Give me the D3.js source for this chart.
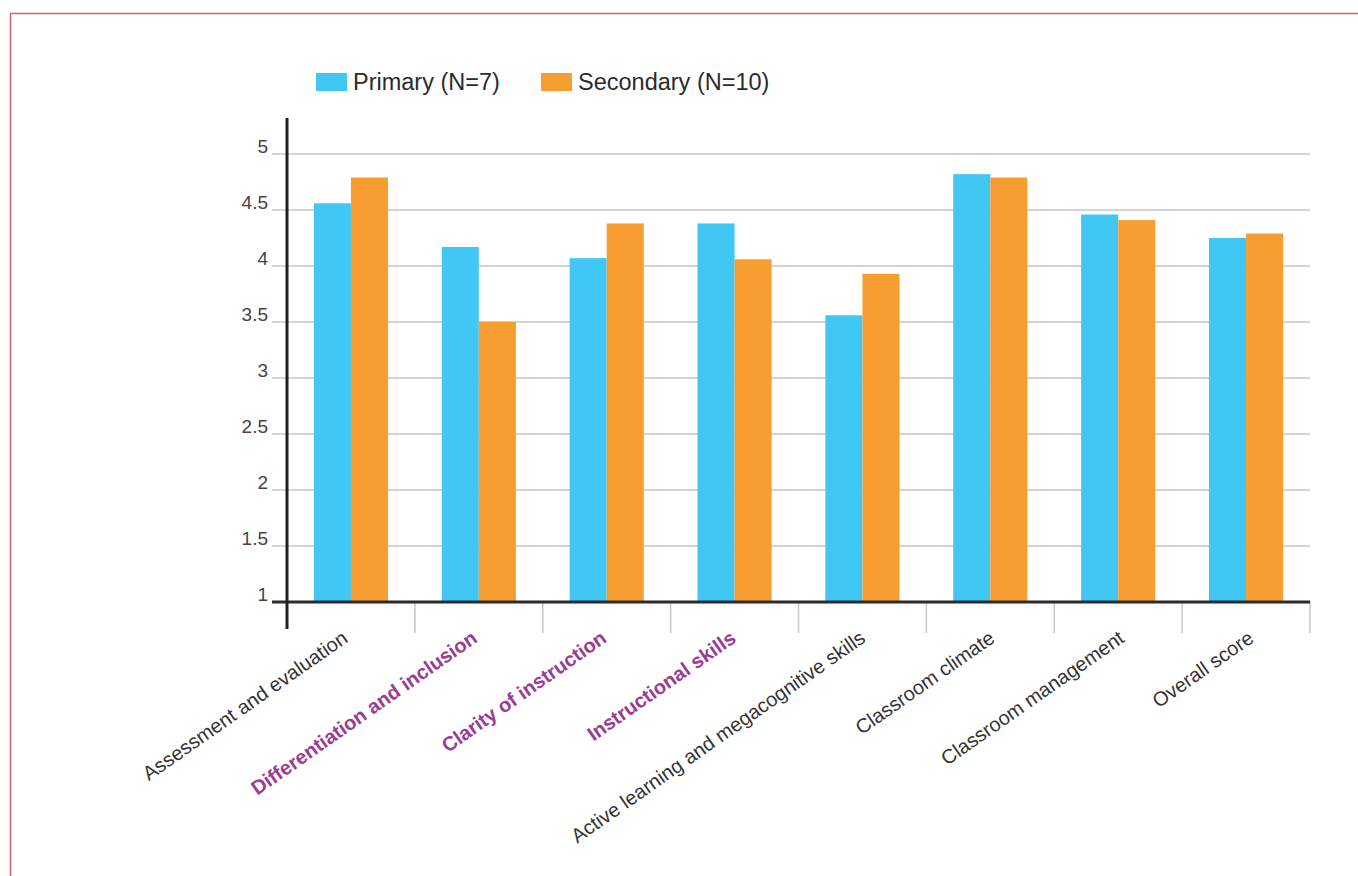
<!DOCTYPE html>
<html>
<head>
<meta charset="utf-8">
<script src="https://cdn.jsdelivr.net/npm/d3@7"></script>
<style>
  html, body { margin: 0; padding: 0; background: #fff; }
  svg { display: block; font-family: "Liberation Sans", Arial, Helvetica, sans-serif; }
</style>
</head>
<body>
<svg id="chart" width="1358" height="876"></svg>
<script>
// Mean observation scores by domain, primary vs secondary teachers
const categories = [
  "Assessment and evaluation",
  "Differentiation and inclusion",
  "Clarity of instruction",
  "Instructional skills",
  "Active learning and megacognitive skills",
  "Classroom climate",
  "Classroom management",
  "Overall score"
];
const highlighted = [
  "Differentiation and inclusion",
  "Clarity of instruction",
  "Instructional skills"
];
const seriesNames = ["Primary (N=7)", "Secondary (N=10)"];
const primaryValues   = [4.56, 4.17, 4.07, 4.38, 3.56, 4.82, 4.46, 4.25];
const secondaryValues = [4.79, 3.50, 4.38, 4.06, 3.93, 4.79, 4.41, 4.29];
const yTicks = [1, 1.5, 2, 2.5, 3, 3.5, 4, 4.5, 5];
const yTickLabels = ["1", "1.5", "2", "2.5", "3", "3.5", "4", "4.5", "5"];

const colors = ["#41c7f4", "#f79e33"];
const seriesValues = [primaryValues, secondaryValues];

const svg = d3.select("#chart");

// frame
svg.append("path")
  .attr("d", "M10.5,876 L10.5,13.5 L1358,13.5")
  .attr("fill", "none")
  .attr("stroke", "#d0646c")
  .attr("stroke-width", 1.5);

const plotLeft = 287, plotRight = 1310, plotTop = 118, baseY = 602;

const x = d3.scaleBand().domain(categories).range([plotLeft, plotRight]).padding(0);
const xs = d3.scaleBand().domain([0, 1])
  .range([x.bandwidth() * 0.21, x.bandwidth() * 0.79]).padding(0);
const y = d3.scaleLinear().domain([1, 5]).range([baseY, 154]);
// anchor points for the slanted category labels
const xLabel = d3.scalePoint().domain(categories).range([349, 1255]);

// gridlines
svg.append("g")
  .selectAll("line")
  .data(yTicks.filter(t => t > 1))
  .join("line")
  .attr("x1", 272).attr("x2", plotRight)
  .attr("y1", d => y(d)).attr("y2", d => y(d))
  .attr("stroke", "#c6c6c6").attr("stroke-width", 1.5);

// y tick labels
svg.append("g")
  .selectAll("text")
  .data(yTicks)
  .join("text")
  .attr("x", 268)
  .attr("y", d => y(d) - 1)
  .attr("text-anchor", "end")
  .attr("font-size", 19)
  .attr("fill", "#444")
  .text((d, i) => yTickLabels[i]);

// bars
const groups = svg.append("g")
  .selectAll("g")
  .data(categories)
  .join("g")
  .attr("transform", d => `translate(${x(d)},0)`);

groups.selectAll("rect")
  .data((d, i) => seriesValues.map((vals, s) => ({ s, v: vals[i] })))
  .join("rect")
  .attr("x", d => xs(d.s))
  .attr("width", xs.bandwidth())
  .attr("y", d => y(d.v))
  .attr("height", d => baseY - y(d.v))
  .attr("fill", d => colors[d.s]);

// category separators below baseline
svg.append("g")
  .selectAll("line")
  .data(categories)
  .join("line")
  .attr("x1", d => x(d) + x.bandwidth()).attr("x2", d => x(d) + x.bandwidth())
  .attr("y1", baseY).attr("y2", 633)
  .attr("stroke", "#c6c6c6").attr("stroke-width", 1.5);

// baseline
svg.append("line")
  .attr("x1", 272).attr("x2", plotRight)
  .attr("y1", baseY).attr("y2", baseY)
  .attr("stroke", "#2b2b2b").attr("stroke-width", 3);

// y axis line
svg.append("line")
  .attr("x1", plotLeft).attr("x2", plotLeft)
  .attr("y1", plotTop).attr("y2", 629)
  .attr("stroke", "#231f20").attr("stroke-width", 3);

// category labels
svg.append("g")
  .selectAll("text")
  .data(categories)
  .join("text")
  .attr("transform", d => `translate(${xLabel(d)},641) rotate(-35)`)
  .attr("text-anchor", "end")
  .attr("font-size", 20)
  .attr("font-weight", d => highlighted.includes(d) ? "bold" : "normal")
  .attr("fill", d => highlighted.includes(d) ? "#9b3b94" : "#333")
  .text(d => d);

// legend
const legendX = [316, 541];
const legend = svg.append("g")
  .selectAll("g")
  .data(seriesNames)
  .join("g")
  .attr("transform", (d, i) => `translate(${legendX[i]},73)`);
legend.append("rect")
  .attr("width", 31).attr("height", 18)
  .attr("fill", (d, i) => colors[i]);
legend.append("text")
  .attr("x", 37).attr("y", 17)
  .attr("font-size", 23.5)
  .attr("fill", "#2b2b2b")
  .text(d => d);
</script>
</body>
</html>
